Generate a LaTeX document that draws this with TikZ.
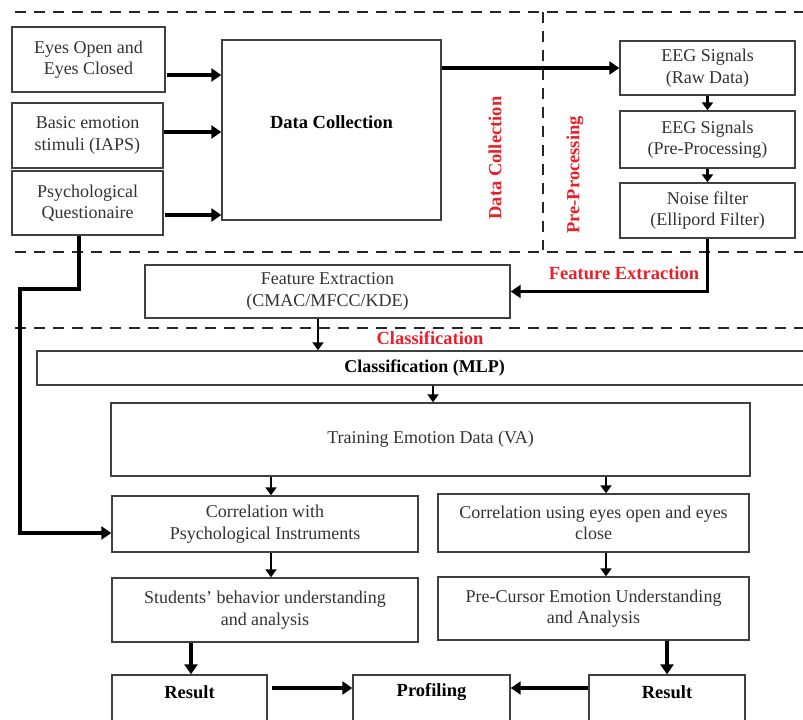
\documentclass[tikz,border=0pt]{standalone}
\usepackage{fontspec}
\setmainfont{Liberation Serif}
\usetikzlibrary{arrows.meta}
\definecolor{lblred}{HTML}{E8202A}
\begin{document}
\begin{tikzpicture}[x=1pt,y=-1pt,
  box/.style={draw=black!75,line width=1.4pt,inner sep=2pt,align=center,
    text=black!80,font=\fontsize{18}{21.5}\selectfont},
  bbox/.style={box,text=black,font=\fontsize{18}{21.5}\selectfont\bfseries},
  boldtxt/.style={font=\fontsize{18.5}{21}\selectfont\bfseries,text=black,anchor=center},
  arr/.style={draw=black,line width=3.6pt,-{Triangle[length=10pt,width=13pt]}},
  sarr/.style={draw=black,line width=2.6pt,-{Triangle[length=8pt,width=11pt]}},
  sep/.style={draw=black!85,line width=2.8pt,dash pattern=on 11pt off 8pt},
  redlbl/.style={text=lblred,font=\fontsize{18.5}{21}\selectfont\bfseries}]
\clip (0,0) rectangle (803,720);
\fill[white] (0,0) rectangle (803,720);
% separators
\draw[sep] (15,12) -- (803,12);
\draw[sep] (543,12) -- (543,250);
\draw[sep] (15,252) -- (803,252);
\draw[sep] (15,328) -- (803,328);
% top left inputs
\node[box,minimum width=153pt,minimum height=65pt] (eyes) at (88.5,59.5) {Eyes Open and\\Eyes Closed};
\node[box,minimum width=151pt,minimum height=65pt] (basic) at (87.5,135.5) {Basic emotion\\stimuli (IAPS)};
\node[box,minimum width=151pt,minimum height=64pt] (psych) at (87.5,203) {Psychological\\Questionaire};
\node[box,minimum width=219pt,minimum height=180pt,
  label={[boldtxt,yshift=8pt]center:Data Collection}] (dc) at (331.5,130) {};
% EEG
\node[box,minimum width=175pt,minimum height=54pt] (raw) at (707.5,68) {EEG Signals\\(Raw Data)};
\node[box,minimum width=175pt,minimum height=57pt] (pre) at (707.5,139.5) {EEG Signals\\(Pre-Processing)};
\node[box,minimum width=175pt,minimum height=55pt] (noise) at (707.5,210.5) {Noise filter\\(Ellipord Filter)};
% red labels
\node[redlbl,rotate=90] (lblDC) at (495,158) {Data Collection};
\node[redlbl,rotate=90] (lblPP) at (575,175) {Pre-Processing};
\node[redlbl] (lblFE) at (624,273) {Feature Extraction};
\node[redlbl] (lblCL) at (430,338) {Classification};
% middle
\node[box,minimum width=365pt,minimum height=53pt] (feat) at (327.5,291.5) {Feature Extraction\\(CMAC/MFCC/KDE)};
\node[bbox,minimum width=775pt,minimum height=34pt] (cls) at (424.5,368) {Classification (MLP)};
\node[box,minimum width=639pt,minimum height=73pt] (train) at (430.5,439.5) {Training Emotion Data (VA)};
\node[box,minimum width=306pt,minimum height=56pt] (cpsy) at (265,524) {Correlation with\\Psychological Instruments};
\node[box,minimum width=311pt,minimum height=58pt] (ceye) at (593.5,523) {Correlation using eyes open and eyes\\close};
\node[box,minimum width=306pt,minimum height=64pt] (stud) at (265,610) {Students' behavior understanding\\and analysis};
\node[box,minimum width=311pt,minimum height=63pt] (prec) at (593.5,608.5) {Pre-Cursor Emotion Understanding\\and Analysis};
\node[box,minimum width=155pt,minimum height=60pt,
  label={[boldtxt,yshift=-18pt]north:Result}] (res1) at (189.5,705) {};
\node[box,minimum width=157pt,minimum height=60pt,
  label={[boldtxt,yshift=-18pt]north:Profiling}] (prof) at (431.5,705) {};
\node[box,minimum width=156pt,minimum height=60pt,
  label={[boldtxt,yshift=-18pt]north:Result}] (res2) at (667,705) {};
% arrows top
\coordinate (a1) at ([yshift=-15.5pt]eyes.east);
\coordinate (a2) at ([yshift=3.5pt]basic.east);
\coordinate (a3) at ([yshift=-12pt]psych.east);
\draw[arr] ([xshift=1.5pt]a1) -- (a1 -| dc.west);
\draw[arr] (a2) -- (a2 -| dc.west);
\draw[arr] ([xshift=1.5pt]a3) -- (a3 -| dc.west);
\draw[arr] (raw.west -| dc.east) -- (raw.west);
\draw[sarr] (raw.south) -- (pre.north);
\draw[sarr] (pre.south) -- (noise.north);
\draw[arr] (noise.south) |- (feat.east);
% psych long path
\coordinate (p0) at ([xshift=-8.5pt]psych.south);
\coordinate (bendA) at (79,289);
\coordinate (bendB) at (20,289);
\coordinate (p1) at ([yshift=-9pt]cpsy.west);
\draw[arr] (p0) -- (p0 |- bendA) -- (bendB) |- (p1);
% classification chain
\coordinate (f1) at ([xshift=-9.5pt]feat.south);
\draw[sarr] (f1) -- (f1 |- cls.north);
\coordinate (c1) at ([xshift=8.5pt]cls.south);
\draw[sarr] (c1) -- (c1 |- train.north);
\coordinate (t1) at ([xshift=6pt]cpsy.north);
\coordinate (t2) at ([xshift=12.5pt]ceye.north);
\draw[sarr] (t1 |- train.south) -- (t1);
\draw[sarr] (t2 |- train.south) -- (t2);
\coordinate (s1) at ([xshift=6pt]cpsy.south);
\coordinate (s2) at ([xshift=12.5pt]ceye.south);
\draw[sarr] (s1) -- (s1 |- stud.north);
\draw[sarr] (s2) -- (s2 |- prec.north);
\draw[arr] ([xshift=1.5pt]res1.north |- stud.south) -- ([xshift=1.5pt]res1.north);
\draw[arr] (res2.north |- prec.south) -- (res2.north);
\coordinate (r1) at ([yshift=17pt]res1.east);
\coordinate (r2) at ([yshift=17pt]res2.west);
\draw[arr,shorten <=4pt] (r1) -- (r1 -| prof.west);
\draw[arr] (r2) -- (r2 -| prof.east);
\end{tikzpicture}
\end{document}
